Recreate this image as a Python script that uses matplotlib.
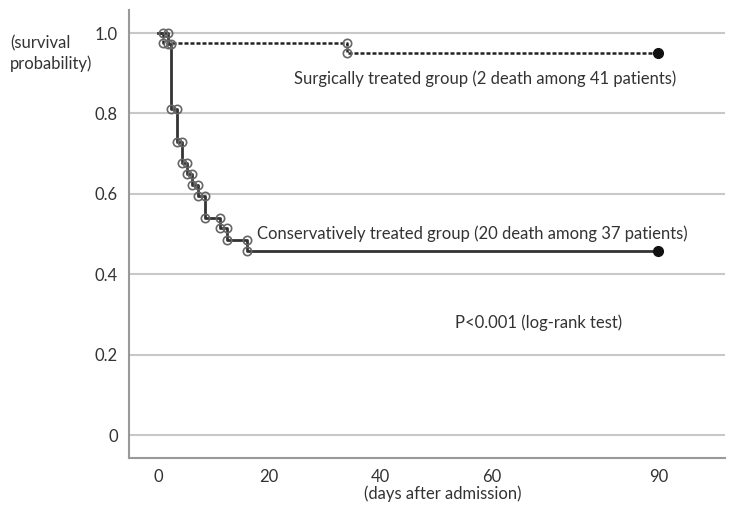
import numpy as np
import matplotlib.pyplot as plt

plt.rcParams['font.family'] = ['Lato', 'DejaVu Sans']

# conservatively treated group (37 patients, 20 deaths)
cons_days = [0, 1.8, 2.4, 3.4, 4.3, 5.2, 6.1, 7.2, 8.5, 11.2, 12.4, 16.0, 90]
cons_surv = [1.0, 0.973, 0.811, 0.730, 0.676, 0.649, 0.622, 0.595, 0.541, 0.514, 0.486, 0.459, 0.459]

# surgically treated group (41 patients, 2 deaths)
surg_days = [0, 1.0, 34.0, 90]
surg_surv = [1.0, 0.976, 0.951, 0.951]

x_ticks = [0, 20, 40, 60, 90]
y_ticks = [0, 0.2, 0.4, 0.6, 0.8, 1.0]
y_labels = ['0', '0.2', '0.4', '0.6', '0.8', '1.0']

txt = '#333333'
grid_c = '#c8c8c8'

fig = plt.figure(figsize=(7.31, 5.08), dpi=100)
ax = fig.add_axes([0.1765, 0.0984, 0.8155, 0.8816])


def corners(days, surv):
    # circle marks at both ends of every drop
    xs, ys = [], []
    for i in range(1, len(days) - 1):
        xs += [days[i], days[i]]
        ys += [surv[i - 1], surv[i]]
    return xs, ys


ax.step(surg_days, surg_surv, where='post', color='#222222', lw=1.8, ls=(0, (1.6, 0.8)), zorder=3)
ax.step(cons_days, cons_surv, where='post', color='#333333', lw=2.0, zorder=3)

for d, s in [(surg_days, surg_surv), (cons_days, cons_surv)]:
    xs, ys = corners(d, s)
    ax.plot(xs, ys, ls='none', marker='o', ms=6, mfc='none', mec='#666666', mew=1.2, zorder=4)
    ax.plot(d[-1], s[-1], ls='none', marker='o', ms=7, color='#111111', zorder=5)

ax.set_xlim(-5.2, 102)
ax.set_ylim(-0.057, 1.057)
ax.set_xticks(x_ticks)
ax.set_yticks(y_ticks)
ax.set_yticklabels(y_labels)
ax.tick_params(length=0, labelsize=12, colors=txt, pad=8)
ax.tick_params(axis='y', pad=8)
ax.grid(axis='y', color=grid_c, lw=1.5)
ax.set_axisbelow(True)
for s in ['top', 'right']:
    ax.spines[s].set_visible(False)
for s in ['left', 'bottom']:
    ax.spines[s].set_color('#999999')
    ax.spines[s].set_linewidth(1.5)

fig.text(443 / 731, 1 - 494 / 508, '(days after admission)', fontsize=12, color=txt, ha='center', va='center')
fig.text(0.014, 0.894, '(survival\nprobability)', fontsize=12, color=txt, va='center', linespacing=1.3)

ax.text(24.5, 0.886, 'Surgically treated group (2 death among 41 patients)', fontsize=12, color=txt, va='center')
ax.text(17.9, 0.502, 'Conservatively treated group (20 death among 37 patients)', fontsize=12, color=txt, va='center')
ax.text(53.5, 0.28, 'P<0.001 (log-rank test)', fontsize=12, color=txt, va='center')

fig.savefig('out.png', dpi=100)
